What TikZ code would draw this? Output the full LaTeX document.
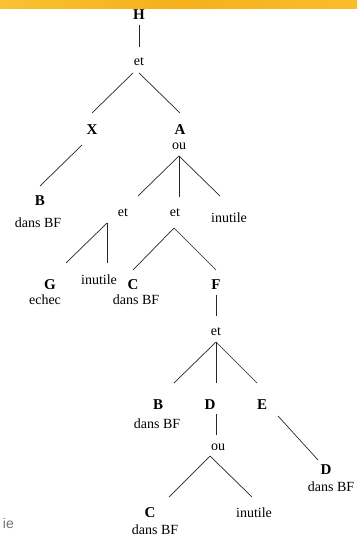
\documentclass[tikz,border=0pt]{standalone}
\usepackage{fontspec}
\setmainfont{Liberation Serif}
\newfontfamily\slidefont{Liberation Sans}
\definecolor{barA}{HTML}{F8C232}
\definecolor{barB}{HTML}{F5B01A}
\definecolor{barC}{HTML}{F9BE2A}
\definecolor{edgecol}{HTML}{262626}
\tikzset{
  lab/.style={font=\fontsize{15}{15}\selectfont\bfseries, inner sep=0pt},
  txt/.style={font=\fontsize{14}{14}\selectfont, inner sep=0pt},
  edge/.style={draw=edgecol, line width=0.7pt}
}
\begin{document}
\begin{tikzpicture}[x=1pt,y=-1pt]
\useasboundingbox (0,0) rectangle (357,537);
\fill[white] (0,0) rectangle (357,537);
\shade[left color=barA, right color=barC, middle color=barB] (0,0) rectangle (357,9);
\node[font=\slidefont\fontsize{14}{14}\selectfont, text=black!55, anchor=east, inner sep=0pt] (ie) at (14,523) {ie};

% nodes
\node[lab] (H) at (139,15) {H};
\node[txt] (et0) at (139,62) {et};
\node[lab] (X) at (92,130) {X};
\node[lab] (A) at (180,130) {A};
\node[txt] (ouA) at (179,146) {ou};
\node[lab] (B1) at (40,201) {B};
\node[txt] (B1l) at (38,223) {dans BF};
\node[txt] (et1) at (123,213) {et};
\node[txt] (et2) at (175,213) {et};
\node[txt] (in1) at (229,218) {inutile};
\node[lab] (G) at (50,285) {G};
\node[txt] (Gl) at (45,300) {echec};
\node[txt] (in2) at (99,280) {inutile};
\node[lab] (C1) at (133,285) {C};
\node[txt] (C1l) at (136,300) {dans BF};
\node[lab] (F) at (216,285) {F};
\node[txt] (et3) at (216,332) {et};
\node[lab] (B2) at (158,405) {B};
\node[txt] (B2l) at (157,424) {dans BF};
\node[lab] (D1) at (210,405) {D};
\node[lab] (E) at (262,405) {E};
\node[txt] (ou2) at (218,447) {ou};
\node[lab] (C2) at (150,513) {C};
\node[txt] (C2l) at (155,530) {dans BF};
\node[txt] (in3) at (254,513) {inutile};
\node[lab] (D2) at (326,470) {D};
\node[txt] (D2l) at (331,487) {dans BF};

% connectors
\draw[edge] ([shift={(0,10)}]H.center) -- ([shift={(0,-15)}]et0.center);
\draw[edge] ([shift={(-6,11)}]et0.center) -- ([shift={(0,-17)}]X.center);
\draw[edge] ([shift={(0,11)}]et0.center) -- ([shift={(0,-17)}]A.center);
\draw[edge] ([shift={(-10,15)}]X.center) -- ([shift={(0,-15)}]B1.center);
\draw[edge] ([shift={(0,10)}]ouA.center) -- ([shift={(15,-17)}]et1.center);
\draw[edge] ([shift={(0,10)}]ouA.center) -- ([shift={(4,-16)}]et2.center);
\draw[edge] ([shift={(0,10)}]ouA.center) -- ([shift={(-9,-22)}]in1.center);
\draw[edge] ([shift={(-16,10)}]et1.center) -- ([shift={(16,-22)}]G.center);
\draw[edge] ([shift={(-16,10)}]et1.center) -- ([shift={(8,-17)}]in2.center);
\draw[edge] ([shift={(-1,15)}]et2.center) -- ([shift={(0,-15)}]C1.center);
\draw[edge] ([shift={(-1,15)}]et2.center) -- ([shift={(0,-15)}]F.center);
\draw[edge] ([shift={(0,10)}]F.center) -- ([shift={(0,-16)}]et3.center);
\draw[edge] ([shift={(0,10)}]et3.center) -- ([shift={(16,-22)}]B2.center);
\draw[edge] ([shift={(0,10)}]et3.center) -- ([shift={(6,-22)}]D1.center);
\draw[edge] ([shift={(0,10)}]et3.center) -- ([shift={(-5,-22)}]E.center);
\draw[edge] ([shift={(6,9)}]D1.center) -- ([shift={(-2,-12)}]ou2.center);
\draw[edge] ([shift={(-8,9)}]ou2.center) -- ([shift={(19,-16)}]C2.center);
\draw[edge] ([shift={(-8,9)}]ou2.center) -- ([shift={(-2,-16)}]in3.center);
\draw[edge] ([shift={(16,11)}]E.center) -- ([shift={(-8,-10)}]D2.center);
\end{tikzpicture}
\end{document}
